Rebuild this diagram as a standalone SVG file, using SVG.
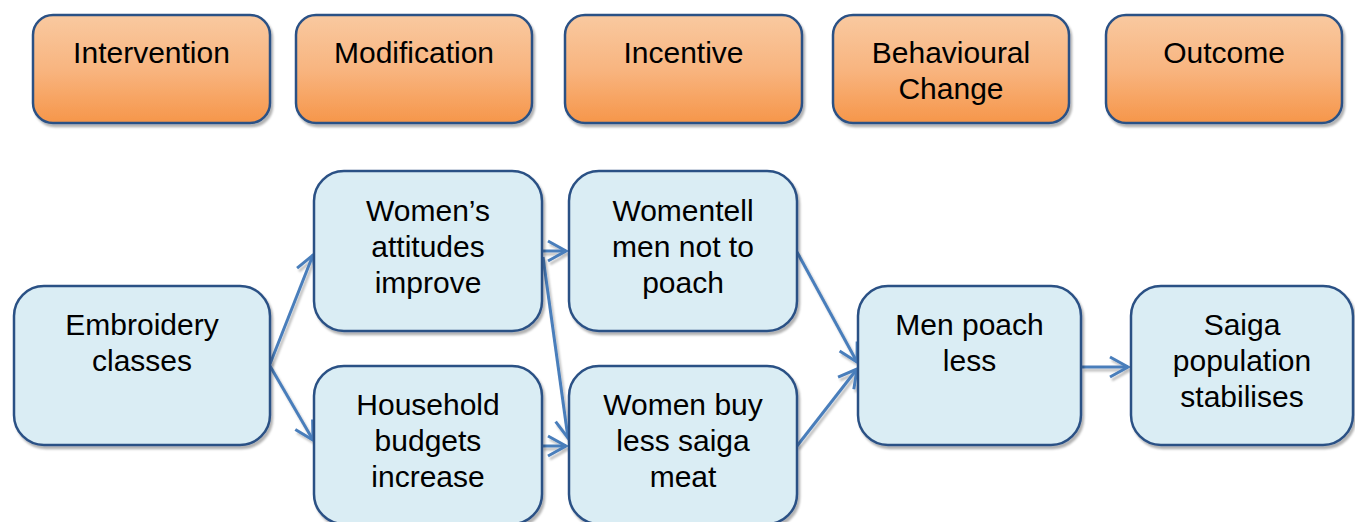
<svg xmlns="http://www.w3.org/2000/svg" width="1355" height="522" viewBox="0 0 1355 522">
<style>
.hdr{fill:url(#og);stroke:#2c5185;stroke-width:2.5;filter:url(#sh)}
.box{fill:#daedf4;stroke:#2c5185;stroke-width:2.5;filter:url(#sh)}
text{font-family:"Liberation Sans",Arial,sans-serif;font-size:30px;fill:#000;text-anchor:middle}
.con{stroke:#4a7ebb;stroke-width:3;fill:none;marker-end:url(#ah)}
</style>
<defs>
<linearGradient id="og" x1="0" y1="0" x2="0" y2="1">
<stop offset="0" stop-color="#f9c9a0"/>
<stop offset="0.5" stop-color="#f8b580"/>
<stop offset="1" stop-color="#f6964a"/>
</linearGradient>
<filter id="sh" x="-10%" y="-10%" width="130%" height="130%">
<feDropShadow dx="2" dy="3" stdDeviation="1.2" flood-color="#000" flood-opacity="0.3"/>
</filter>
<filter id="csh" x="-20%" y="-20%" width="140%" height="140%">
<feDropShadow dx="2" dy="3" stdDeviation="1" flood-color="#000" flood-opacity="0.25"/>
</filter>
<marker id="ah" markerUnits="userSpaceOnUse" markerWidth="30" markerHeight="30" refX="19" refY="11" orient="auto" overflow="visible">
<path d="M1,1 L19,11 L1,21" fill="none" stroke="#4a7ebb" stroke-width="3" stroke-linejoin="miter"/>
</marker>
</defs>

<g id="h-intervention"><rect class="hdr" x="33" y="15" width="237" height="108" rx="20"/><text x="151.5" y="63">Intervention</text></g>
<g id="h-modification"><rect class="hdr" x="296" y="15" width="236" height="108" rx="20"/><text x="414" y="63">Modification</text></g>
<g id="h-incentive"><rect class="hdr" x="565" y="15" width="237" height="108" rx="20"/><text x="683.5" y="63">Incentive</text></g>
<g id="h-behavioural"><rect class="hdr" x="833" y="15" width="236" height="108" rx="20"/><text x="951" y="63">Behavioural</text><text x="951" y="99">Change</text></g>
<g id="h-outcome"><rect class="hdr" x="1106" y="15" width="236" height="108" rx="20"/><text x="1224" y="63">Outcome</text></g>

<g id="connectors" filter="url(#csh)">
<line class="con" x1="270" y1="364" x2="313" y2="255"/>
<line class="con" x1="270" y1="366" x2="313" y2="440"/>
<line class="con" x1="542" y1="251" x2="566" y2="251"/>
<line class="con" x1="543" y1="257" x2="568" y2="438"/>
<line class="con" x1="542" y1="446" x2="566" y2="446"/>
<line class="con" x1="797" y1="252" x2="857" y2="362"/>
<line class="con" x1="797" y1="446" x2="857" y2="369"/>
<line class="con" x1="1082" y1="367" x2="1128" y2="367"/>
</g>

<g id="n-embroidery"><rect class="box" x="14" y="286" width="256" height="159" rx="30"/><text x="142" y="335">Embroidery</text><text x="142" y="371">classes</text></g>
<g id="n-attitudes"><rect class="box" x="314" y="171" width="228" height="160" rx="30"/><text x="428" y="221">Women’s</text><text x="428" y="257">attitudes</text><text x="428" y="293">improve</text></g>
<g id="n-budgets"><rect class="box" x="314" y="366" width="228" height="158" rx="30"/><text x="428" y="415">Household</text><text x="428" y="451">budgets</text><text x="428" y="487">increase</text></g>
<g id="n-tell"><rect class="box" x="569" y="171" width="228" height="160" rx="30"/><text x="683" y="221">Womentell</text><text x="683" y="257">men not to</text><text x="683" y="293">poach</text></g>
<g id="n-buy"><rect class="box" x="569" y="366" width="228" height="158" rx="30"/><text x="683" y="415">Women buy</text><text x="683" y="451">less saiga</text><text x="683" y="487">meat</text></g>
<g id="n-poach"><rect class="box" x="858" y="286" width="223" height="159" rx="30"/><text x="969.5" y="335">Men poach</text><text x="969.5" y="371">less</text></g>
<g id="n-saiga"><rect class="box" x="1131" y="286" width="222" height="159" rx="30"/><text x="1242" y="335">Saiga</text><text x="1242" y="371">population</text><text x="1242" y="407">stabilises</text></g>
</svg>
